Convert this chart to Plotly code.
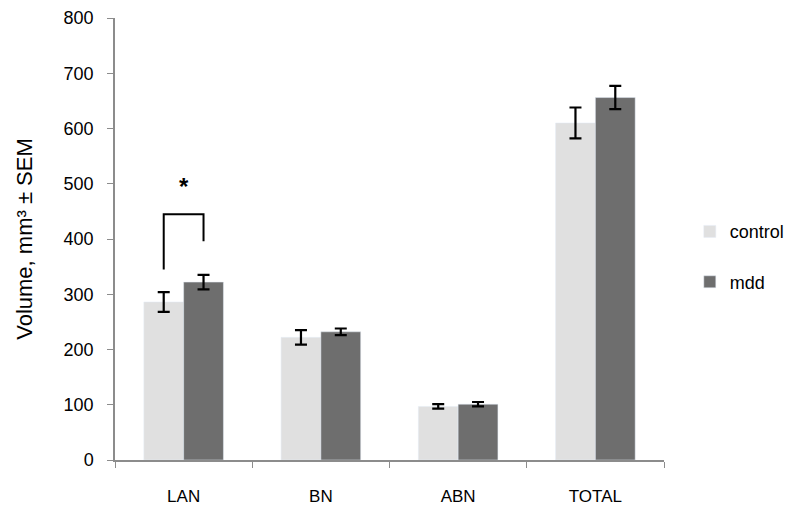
import plotly.graph_objects as go

regions = ["LAN", "BN", "ABN", "TOTAL"]
control = [286, 222, 97, 610]
control_sem = [18, 13, 4, 28]
mdd = [322, 232, 101, 656]
mdd_sem = [13, 6, 4, 21]

# significance bracket over LAN (x in category units, y in data units)
bracket_x = [-0.145, -0.145, 0.145, 0.145]
bracket_y = [345, 445, 445, 396]
star_x = 0.0
star_y = 495

fig = go.Figure()
fig.add_trace(go.Bar(
    x=regions, y=control, name="control",
    marker=dict(color="#e0e0e0"),
    error_y=dict(type="data", array=control_sem, color="black", thickness=2.2, width=6),
    legendgroup="a",
))
fig.add_trace(go.Bar(
    x=regions, y=mdd, name="mdd",
    marker=dict(color="#6e6e6e"),
    error_y=dict(type="data", array=mdd_sem, color="black", thickness=2.2, width=6),
    legendgroup="b",
))
fig.add_trace(go.Scatter(
    x=bracket_x, y=bracket_y, mode="lines", xaxis="x2",
    line=dict(color="black", width=2), showlegend=False, hoverinfo="skip",
))
fig.add_annotation(x=star_x, y=star_y, xref="x2", yref="y", text="<b>*</b>",
                   showarrow=False, font=dict(size=24, color="black"))

# page body has an 8px default margin, so the figure is shrunk by that much
fig.update_layout(
    width=792, height=503,
    margin=dict(l=107, r=129, t=10, b=51),
    paper_bgcolor="white", plot_bgcolor="white",
    font=dict(family="Liberation Sans, Arial, sans-serif", size=17, color="black"),
    barmode="group", bargap=0.42, bargroupgap=0,
    legend=dict(x=1.047, y=0.46, xanchor="left", yanchor="middle",
                traceorder="grouped", tracegroupgap=24, font=dict(size=18)),
    xaxis=dict(showline=True, linecolor="#8c8c8c", linewidth=1.5,
               ticks="outside", tickson="boundaries", tickcolor="#8c8c8c", ticklen=6,
               range=[-0.5, 3.5], showgrid=False, automargin=False,
               tickfont=dict(size=17), ticklabelstandoff=20),
    xaxis2=dict(overlaying="x", range=[-0.5, 3.5], visible=False),
    yaxis=dict(range=[0, 800], dtick=100, showline=True, linecolor="#8c8c8c", linewidth=1.5,
               ticks="outside", tickcolor="#8c8c8c", ticklen=6, showgrid=False, zeroline=False,
               automargin=False, tickfont=dict(size=18), ticklabelstandoff=10,
               ticklabeloverflow="allow",
               title=dict(text="Volume, mm³ ± SEM", font=dict(size=22), standoff=25)),
)

fig.write_html("out.html")
